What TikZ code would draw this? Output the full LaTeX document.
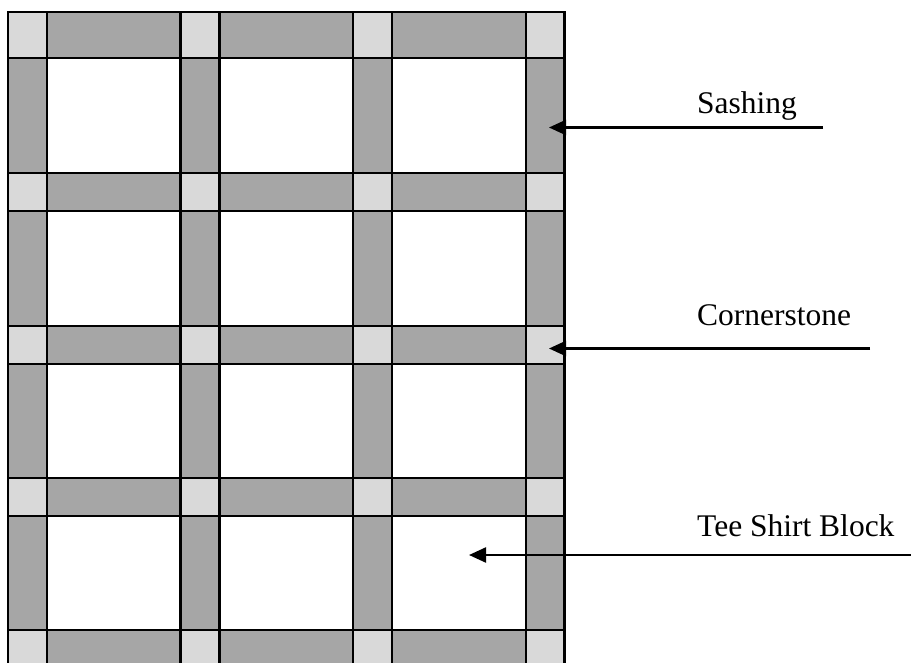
\documentclass[tikz,border=0pt]{standalone}
\usepackage{fontspec}
\setmainfont{Liberation Serif}
\usepackage{tikz}
\usepackage{xcolor}
\usetikzlibrary{arrows.meta}
\definecolor{sashgray}{HTML}{A6A6A6}
\definecolor{stonegray}{HTML}{D9D9D9}

\begin{document}
\begin{tikzpicture}[x=1pt,y=-1pt,
		piece/.style={draw=black,line width=2.5pt},
		sash/.style={piece,fill=sashgray},
		stone/.style={piece,fill=stonegray},
		tee/.style={piece,fill=white},
		pointer/.style={line width=2.3pt,-{Triangle[length=17pt,width=15pt]}},
		lbl/.style={anchor=base west,inner sep=0pt,font=\fontsize{31.5}{36}\selectfont}]
			\useasboundingbox[fill=white] (0,0) rectangle (911,662);
			\clip (0,0) rectangle (911,662);
			% sashing rows (cornerstones at the crossings)
			\foreach \ya/\yb in {12/58,173/211,326/364,478/516,630/668} {
				\foreach \xa/\xb in {8/46.8,180.6/219.4,353.2/392,525.8/564.6} {\draw[stone] (\xa,\ya) rectangle (\xb,\yb);}
				\foreach \xa/\xb in {46.8/180.6,219.4/353.2,392/525.8} {\draw[sash] (\xa,\ya) rectangle (\xb,\yb);}
			}
			% block rows
			\foreach \ya/\yb in {58/173,211/326,364/478,516/630} {
				\foreach \xa/\xb in {8/46.8,180.6/219.4,353.2/392,525.8/564.6} {\draw[sash] (\xa,\ya) rectangle (\xb,\yb);}
				\foreach \xa/\xb in {46.8/180.6,219.4/353.2,392/525.8} {\draw[tee] (\xa,\ya) rectangle (\xb,\yb);}
			}
			% labels and pointers
			\node[lbl] (sashLabel) at (697,113.5) {Sashing};
			\node[lbl] (stoneLabel) at (697,325) {Cornerstone};
			\node[lbl] (teeLabel) at (697,536) {Tee Shirt Block};
			\coordinate (sashFrom) at (823,127.5);
			\coordinate (sashTo) at (549,127.5);
			\coordinate (stoneFrom) at (870,348.5);
			\coordinate (stoneTo) at (549,348.5);
			\coordinate (teeFrom) at (911,555);
			\coordinate (teeTo) at (469,555);
			\draw[pointer] (sashFrom) -- (sashTo);
			\draw[pointer] (stoneFrom) -- (stoneTo);
			\draw[pointer] (teeFrom) -- (teeTo);
		\end{tikzpicture}
\end{document}
